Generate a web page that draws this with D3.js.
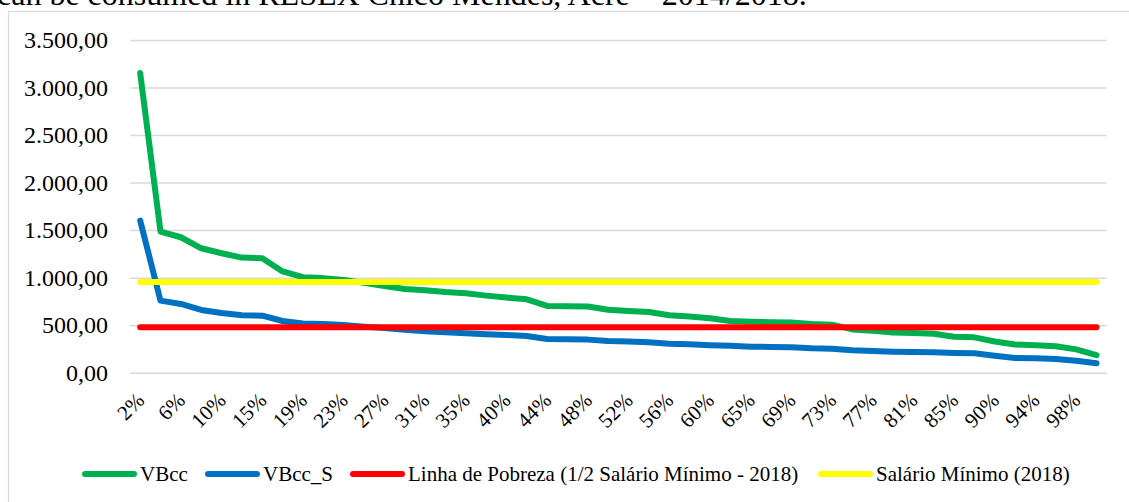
<!DOCTYPE html>
<html>
<head>
<meta charset="utf-8">
<script src="https://cdn.jsdelivr.net/npm/d3@7"></script>
<style>
  body { margin: 0; background: #fff; }
  svg { display: block; font-family: "Liberation Serif", "Times New Roman", serif; }
</style>
</head>
<body>
<svg id="chart" width="1129" height="502"></svg>
<script>
// percentis (48 grupos)
const categories = ["2%","4%","6%","8%","10%","13%","15%","17%","19%","21%","23%","25%",
  "27%","29%","31%","33%","35%","38%","40%","42%","44%","46%","48%","50%",
  "52%","54%","56%","58%","60%","63%","65%","67%","69%","71%","73%","75%",
  "77%","79%","81%","83%","85%","88%","90%","92%","94%","96%","98%","100%"]

const vbcc = [3152,1485,1425,1309,1257,1211,1204,1065,1005,995,976,945,
  913,880,867,849,836,811,790,772,702,699,697,663,
  649,639,604,590,572,544,536,532,528,513,505,455,
  440,423,418,410,379,372,328,296,290,279,245,185]

const vbccS = [1600,758,723,660,628,605,600,544,518,513,502,484,
  470,451,436,425,415,404,397,386,355,352,348,334,
  327,320,305,299,290,284,274,271,267,257,253,236,
  228,221,218,214,207,204,179,155,151,144,126,99]

const linhaPobreza = 477   // 1/2 salario minimo 2018
const salarioMinimo = 954  // salario minimo 2018

const yTicks = [0, 500, 1000, 1500, 2000, 2500, 3000, 3500]

const series = [
  { name: "VBcc", color: "#00b050", values: vbcc },
  { name: "VBcc_S", color: "#0070c0", values: vbccS },
  { name: "Linha de Pobreza (1/2 Salário Mínimo - 2018)", color: "#ff0000", values: categories.map(() => linhaPobreza) },
  { name: "Salário Mínimo (2018)", color: "#ffff00", values: categories.map(() => salarioMinimo) }
]

const br = d3.formatLocale({ decimal: ",", thousands: ".", grouping: [3], currency: ["R$", ""] })
const fmt = br.format(",.2f")

const svg = d3.select("#chart")

// titulo cortado arriba (asi viene en la figura)
svg.append("text")
  .attr("x", -3)
  .attr("y", 5)
  .attr("font-size", 32)
  .attr("fill", "#000")
  .text("can be consumed in RESEX Chico Mendes, Acre – 2014/2018.")

// borde del area del grafico
svg.append("rect")
  .attr("x", 8.5).attr("y", 11.5)
  .attr("width", 1130).attr("height", 500)
  .attr("fill", "none")
  .attr("stroke", "#d9d9d9")
  .attr("stroke-width", 1.2)

const plotLeft = 130, plotRight = 1106.7, plotTop = 40, plotBottom = 372.7

const x = d3.scalePoint()
  .domain(categories)
  .range([plotLeft, plotRight])
  .padding(0.5)

const y = d3.scaleLinear()
  .domain([0, 3500])
  .range([plotBottom, plotTop])

// eje y con lineas de grilla
const yAxis = svg.append("g")
  .attr("transform", `translate(${plotLeft},0)`)
  .call(d3.axisLeft(y).tickValues(yTicks).tickFormat(fmt).tickSize(-(plotRight - plotLeft)).tickPadding(22))
yAxis.select(".domain").remove()
yAxis.selectAll("line").attr("stroke", "#d9d9d9").attr("stroke-width", 1.5)
yAxis.selectAll("text")
  .attr("font-size", 24)
  .attr("font-family", "Liberation Serif")
  .attr("fill", "#000")

// eje x, una etiqueta de cada dos
const xAxis = svg.append("g")
  .attr("transform", `translate(0,${plotBottom})`)
  .call(d3.axisBottom(x).tickSize(0).tickFormat((d, i) => i % 2 === 0 ? d : ""))
xAxis.select(".domain").remove()
xAxis.selectAll("text")
  .attr("font-size", 21)
  .attr("font-family", "Liberation Serif")
  .attr("fill", "#000")
  .attr("text-anchor", "end")
  .attr("y", 0).attr("dy", 0)
  .attr("transform", "translate(5,29) rotate(-45)")

const line = d3.line()
  .x((d, i) => x(categories[i]))
  .y(d => y(d))

svg.append("g").selectAll("path")
  .data(series)
  .join("path")
  .attr("d", d => line(d.values))
  .attr("fill", "none")
  .attr("stroke", d => d.color)
  .attr("stroke-width", 6)
  .attr("stroke-linejoin", "round")
  .attr("stroke-linecap", "round")

// leyenda
const legendPos = [82, 205, 350, 818]
const legend = svg.append("g").selectAll("g")
  .data(series)
  .join("g")
  .attr("transform", (d, i) => `translate(${legendPos[i]},474)`)
legend.append("line")
  .attr("x1", 3).attr("x2", 52)
  .attr("stroke", d => d.color)
  .attr("stroke-width", 6)
  .attr("stroke-linecap", "round")
legend.append("text")
  .attr("x", 58)
  .attr("dy", "0.33em")
  .attr("font-size", 21)
  .attr("fill", "#000")
  .text(d => d.name)
</script>
</body>
</html>
